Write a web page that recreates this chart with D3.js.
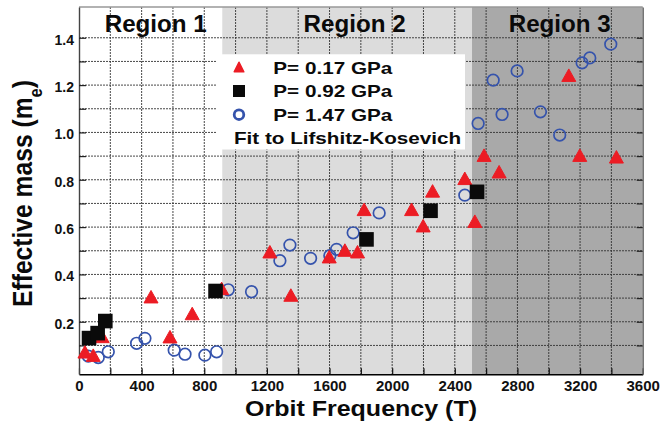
<!DOCTYPE html>
<html>
<head>
<meta charset="utf-8">
<script src="https://cdn.jsdelivr.net/npm/d3@7"></script>
<style>
  html, body { margin: 0; padding: 0; background: #fff; }
  svg { display: block; font-family: "Liberation Sans", Arial, Helvetica, sans-serif; font-weight: bold; }
</style>
</head>
<body>
<svg id="chart" width="660" height="422"></svg>
<script>
// Effective mass (m_e) versus orbit frequency (T), three pressures.
const freq017 = [38, 91, 148, 460, 581, 723, 911, 1219, 1353, 1598, 1698, 1779, 1821, 2124, 2198, 2258, 2464, 2528, 2587, 2683, 3128, 3198, 3432];
const mass017 = [0.073, 0.059, 0.138, 0.306, 0.137, 0.235, 0.341, 0.496, 0.313, 0.475, 0.503, 0.496, 0.675, 0.675, 0.606, 0.753, 0.806, 0.625, 0.904, 0.834, 1.242, 0.904, 0.897];

const freq092 = [64, 119, 168, 872, 1836, 2245, 2542];
const mass092 = [0.131, 0.152, 0.203, 0.330, 0.548, 0.669, 0.749];

const freq147 = [59, 123, 187, 368, 421, 608, 677, 804, 879, 953, 1102, 1283, 1347, 1479, 1602, 1645, 1751, 1917, 2464, 2549, 2645, 2702, 2798, 2947, 3070, 3213, 3262, 3396];
const mass147 = [0.055, 0.049, 0.073, 0.109, 0.130, 0.080, 0.063, 0.059, 0.073, 0.335, 0.327, 0.458, 0.524, 0.468, 0.479, 0.506, 0.576, 0.660, 0.735, 1.038, 1.221, 1.076, 1.260, 1.087, 0.989, 1.294, 1.315, 1.373];

const seriesLabels = ["P= 0.17 GPa", "P= 0.92 GPa", "P= 1.47 GPa"];
const fitLabel = "Fit to Lifshitz-Kosevich";

// Frequency ranges of the three regions and their names
const regionEdges = [0, 915, 2510, 3600];
const regionNames = ["Region 1", "Region 2", "Region 3"];
const regionLabelAt = [490, 1760, 3070];

const xDomain = [0, 3600];
const yDomain = [-0.022, 1.53];
const xMajor = [0, 400, 800, 1200, 1600, 2000, 2400, 2800, 3200, 3600];
const yMajor = [0.2, 0.4, 0.6, 0.8, 1.0, 1.2, 1.4];

// ---- layout & styles ----
const plot = { left: 79, right: 642.7, top: 7, bottom: 374.3 };
const regionFills = ["#ffffff", "#dcdcdc", "#a9a9a9"];
const red = "#ec1c24", blue = "#3553ac";

const svg = d3.select("#chart");
const x = d3.scaleLinear().domain(xDomain).range([plot.left, plot.right]);
const y = d3.scaleLinear().domain(yDomain).range([plot.bottom, plot.top]);

const xMinor = d3.range(0, 3601, 200);
const yMinor = d3.range(1, 15).map(d => d / 10);

// region shading
svg.append("g").selectAll("rect")
  .data(regionNames)
  .join("rect")
  .attr("x", (d, i) => x(regionEdges[i]))
  .attr("y", plot.top)
  .attr("width", (d, i) => x(regionEdges[i + 1]) - x(regionEdges[i]))
  .attr("height", plot.bottom - plot.top)
  .attr("fill", (d, i) => regionFills[i]);

// dotted grid
const grid = svg.append("g")
  .attr("stroke", "#333")
  .attr("stroke-width", 0.9)
  .attr("stroke-dasharray", "2,1");
grid.selectAll("line.v")
  .data(xMinor.filter(d => d > 0 && d < 3600))
  .join("line").attr("class", "v")
  .attr("x1", d => x(d)).attr("x2", d => x(d))
  .attr("y1", plot.top).attr("y2", plot.bottom);
grid.selectAll("line.h")
  .data(yMinor)
  .join("line").attr("class", "h")
  .attr("x1", plot.left).attr("x2", plot.right)
  .attr("y1", d => y(d)).attr("y2", d => y(d));

// top border
svg.append("line")
  .attr("x1", plot.left).attr("x2", plot.right)
  .attr("y1", plot.top).attr("y2", plot.top)
  .attr("stroke", "#999").attr("stroke-width", 1.5);

// axes
const fmt = d3.format(".1f");
const isMajorY = d => yMajor.some(m => Math.abs(m - d) < 1e-9);

const gx = svg.append("g")
  .attr("transform", `translate(0,${plot.bottom})`)
  .call(d3.axisBottom(x)
    .tickValues(xMinor)
    .tickSizeInner(-6).tickSizeOuter(0).tickPadding(6.5)
    .tickFormat(d => xMajor.includes(d) ? String(d) : ""));
gx.attr("font-family", null).attr("font-size", null);
gx.select(".domain").attr("stroke", "#000").attr("stroke-width", 1.6);
gx.selectAll(".tick line").attr("stroke", "#111").attr("stroke-width", 1.2);
gx.selectAll(".tick text").attr("font-size", 15).attr("fill", "#111");

const gy = svg.append("g")
  .attr("transform", `translate(${plot.left},0)`)
  .call(d3.axisLeft(y)
    .tickValues(yMinor)
    .tickSizeInner(-7).tickSizeOuter(0).tickPadding(5)
    .tickFormat(d => isMajorY(d) ? fmt(d) : ""));
gy.attr("font-family", null).attr("font-size", null);
gy.select(".domain").attr("stroke", "#444").attr("stroke-width", 1.4);
gy.selectAll(".tick line").attr("stroke", "#222").attr("stroke-width", 1.2);
gy.selectAll(".tick text").attr("font-size", 14).attr("fill", "#111").attr("dy", "0.45em");

const gr = svg.append("g")
  .attr("transform", `translate(${plot.right},0)`)
  .call(d3.axisRight(y).tickValues(yMinor).tickSizeInner(-6).tickSizeOuter(0).tickFormat(""));
gr.select(".domain").attr("stroke", "#666").attr("stroke-width", 1.4);
gr.selectAll(".tick line").attr("stroke", "#222").attr("stroke-width", 1.2);

// markers
const triPath = (w, h) => `M0,${-h / 2}L${w / 2},${h / 2}L${-w / 2},${h / 2}Z`;

svg.append("g").selectAll("circle")
  .data(d3.zip(freq147, mass147))
  .join("circle")
  .attr("cx", d => x(d[0])).attr("cy", d => y(d[1]))
  .attr("r", 5.8)
  .attr("fill", "none").attr("stroke", blue).attr("stroke-width", 1.7);

svg.append("g").selectAll("path")
  .data(d3.zip(freq017, mass017))
  .join("path")
  .attr("transform", d => `translate(${x(d[0])},${y(d[1])})`)
  .attr("d", triPath(14, 12.5))
  .attr("fill", red).attr("stroke", red).attr("stroke-width", 1).attr("stroke-linejoin", "round");

svg.append("g").selectAll("rect")
  .data(d3.zip(freq092, mass092))
  .join("rect")
  .attr("x", d => x(d[0]) - 7.3).attr("y", d => y(d[1]) - 7.3)
  .attr("width", 14.6).attr("height", 14.6)
  .attr("fill", "#0a0a0a");

// legend
const legend = svg.append("g");
legend.append("rect")
  .attr("x", 217).attr("y", 54.3).attr("width", 248).attr("height", 95.2)
  .attr("fill", "#fff");
const rowY = [67, 91, 114.7];
const textBase = [74, 97.3, 120.7];
const mx = 239;
legend.append("path")
  .attr("transform", `translate(${mx},${rowY[0]})`)
  .attr("d", triPath(9.5, 9.5))
  .attr("fill", red).attr("stroke", red).attr("stroke-width", 1.6).attr("stroke-linejoin", "round");
legend.append("rect")
  .attr("x", mx - 6).attr("y", rowY[1] - 6).attr("width", 12).attr("height", 12)
  .attr("fill", "#0a0a0a");
legend.append("circle")
  .attr("cx", mx).attr("cy", rowY[2]).attr("r", 4.8)
  .attr("fill", "none").attr("stroke", blue).attr("stroke-width", 2.8);
legend.selectAll("text.series")
  .data(seriesLabels)
  .join("text").attr("class", "series")
  .attr("x", 273.3).attr("y", (d, i) => textBase[i])
  .attr("font-size", 16.5).attr("fill", "#0a0a0a")
  .attr("textLength", 119).attr("lengthAdjust", "spacingAndGlyphs")
  .text(d => d);
legend.append("text")
  .attr("x", 234).attr("y", 144)
  .attr("font-size", 16.5).attr("fill", "#0a0a0a")
  .attr("textLength", 227).attr("lengthAdjust", "spacingAndGlyphs")
  .text(fitLabel);

// region labels
svg.append("g").selectAll("text")
  .data(regionNames)
  .join("text")
  .attr("x", (d, i) => x(regionLabelAt[i]))
  .attr("y", 31.5)
  .attr("text-anchor", "middle")
  .attr("font-size", 24).attr("fill", "#0a0a0a")
  .attr("textLength", 102).attr("lengthAdjust", "spacingAndGlyphs")
  .text(d => d);

// axis titles
svg.append("text")
  .attr("x", 361).attr("y", 416)
  .attr("text-anchor", "middle")
  .attr("font-size", 22.5).attr("fill", "#0a0a0a")
  .attr("textLength", 232).attr("lengthAdjust", "spacingAndGlyphs")
  .text("Orbit Frequency (T)");

const yTitle = svg.append("text")
  .attr("text-anchor", "middle")
  .attr("font-size", 27).attr("fill", "#0a0a0a");
yTitle.append("tspan").text("Effective mass (m");
yTitle.append("tspan").attr("font-size", 18).attr("baseline-shift", "sub").text("e");
yTitle.append("tspan").text(")");
const natural = yTitle.node().getBBox().width;
const k = 227 / natural;
yTitle.attr("transform", `translate(31.5,193.5) rotate(-90) scale(${k},1)`);
</script>
</body>
</html>
